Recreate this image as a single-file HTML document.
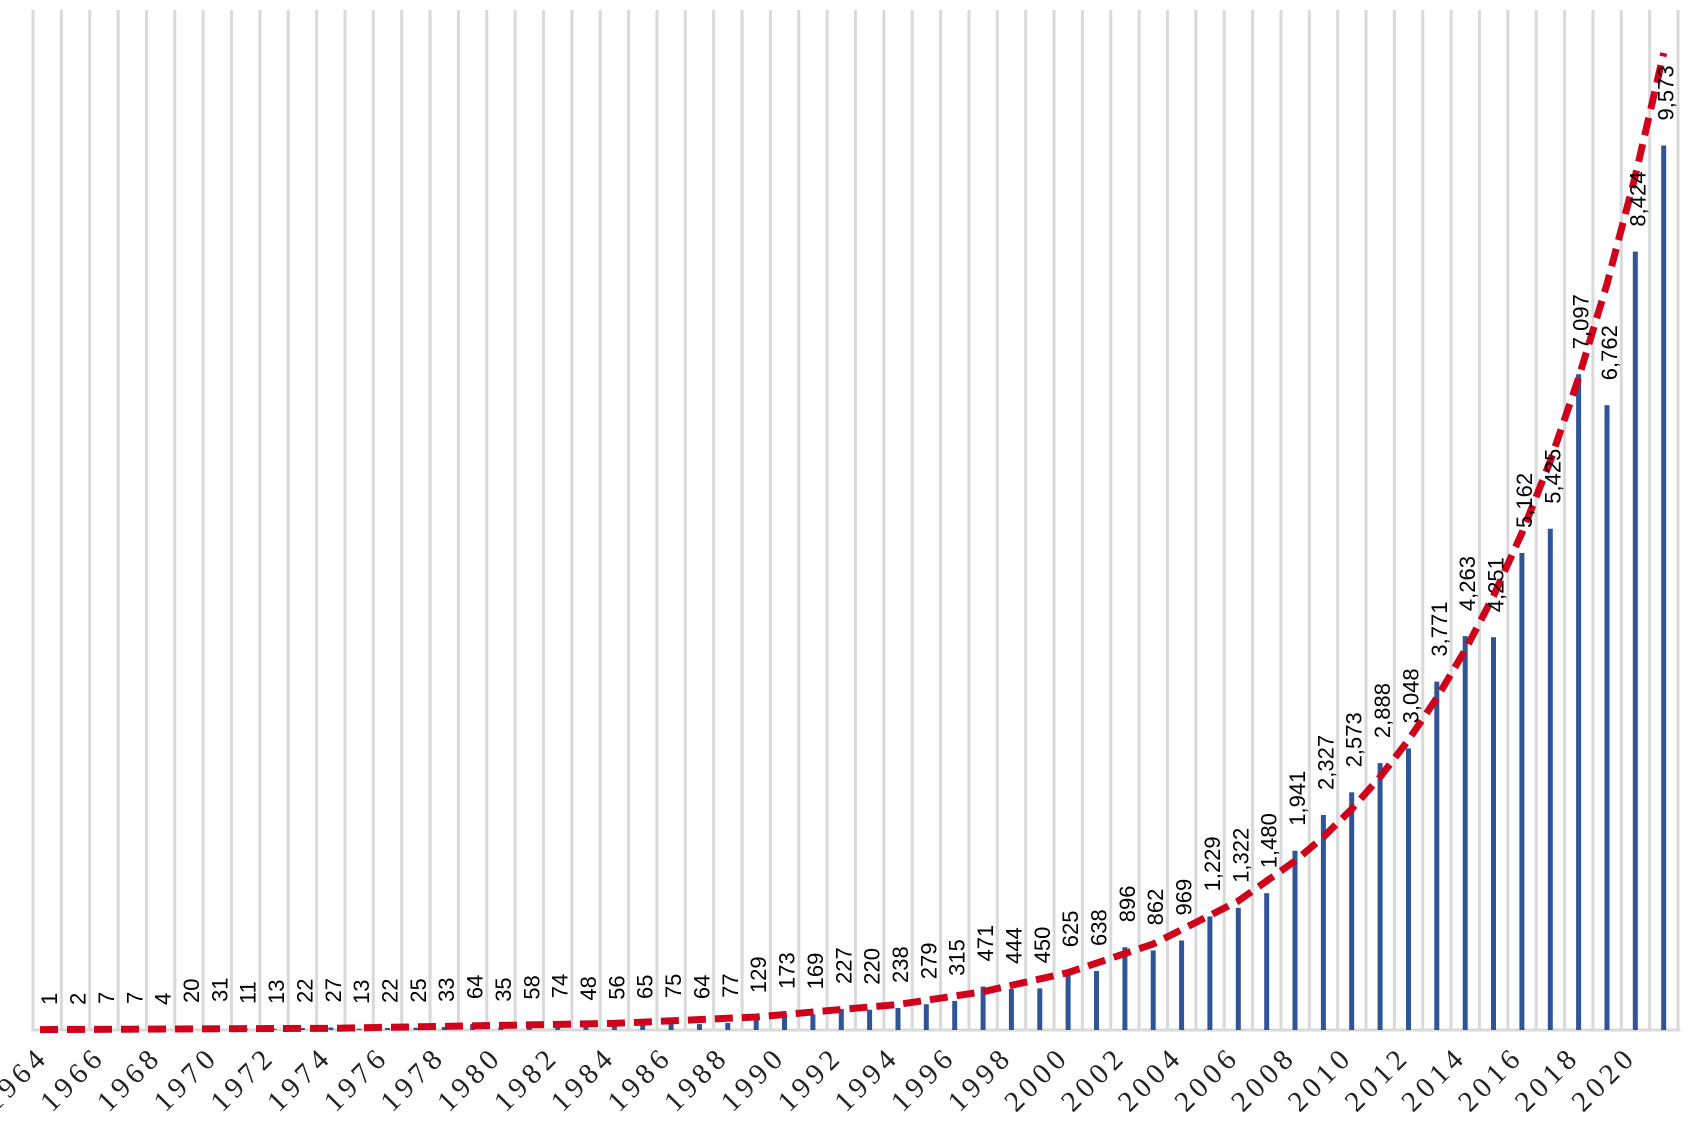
<!DOCTYPE html>
<html><head><meta charset="utf-8"><style>
html,body{margin:0;padding:0;background:#fff;width:1688px;height:1146px;overflow:hidden}
.l{font-family:"Liberation Sans",sans-serif;font-size:22px;fill:#000}
.y{font-family:"Liberation Serif",serif;font-size:29px;letter-spacing:5px;fill:#222;text-anchor:end}
</style></head><body>
<svg width="1688" height="1146" xmlns="http://www.w3.org/2000/svg">
<defs><pattern id="g" patternUnits="userSpaceOnUse" x="31.5" y="0" width="28.362" height="1146"><rect x="0" y="0" width="3" height="1146" fill="#d9d9d9"/></pattern></defs>
<rect x="31.5" y="10" width="1649" height="1020" fill="url(#g)"/>
<rect x="31.5" y="1028.5" width="1649" height="3" fill="#d9d9d9"/>
<g transform="translate(0,1030) scale(1,-1)" fill="#2f5597">
<rect x="44.7" y="0" width="5" height="0.1"/><rect x="73" y="0" width="5" height="0.2"/><rect x="101.4" y="0" width="5" height="0.6"/><rect x="129.8" y="0" width="5" height="0.6"/><rect x="158.1" y="0" width="5" height="0.4"/><rect x="186.5" y="0" width="5" height="1.8"/><rect x="214.8" y="0" width="5" height="2.9"/><rect x="243.2" y="0" width="5" height="1"/><rect x="271.6" y="0" width="5" height="1.2"/><rect x="299.9" y="0" width="5" height="2"/><rect x="328.3" y="0" width="5" height="2.5"/><rect x="356.6" y="0" width="5" height="1.2"/><rect x="385" y="0" width="5" height="2"/><rect x="413.4" y="0" width="5" height="2.3"/><rect x="441.7" y="0" width="5" height="3"/><rect x="470.1" y="0" width="5" height="5.9"/><rect x="498.4" y="0" width="5" height="3.2"/><rect x="526.8" y="0" width="5" height="5.4"/><rect x="555.2" y="0" width="5" height="6.8"/><rect x="583.5" y="0" width="5" height="4.4"/><rect x="611.9" y="0" width="5" height="5.2"/><rect x="640.2" y="0" width="5" height="6"/><rect x="668.6" y="0" width="5" height="6.9"/><rect x="697" y="0" width="5" height="5.9"/><rect x="725.3" y="0" width="5" height="7.1"/><rect x="753.7" y="0" width="5" height="11.9"/><rect x="782" y="0" width="5" height="16"/><rect x="810.4" y="0" width="5" height="15.6"/><rect x="838.8" y="0" width="5" height="21"/><rect x="867.1" y="0" width="5" height="20.3"/><rect x="895.5" y="0" width="5" height="22"/><rect x="923.8" y="0" width="5" height="25.8"/><rect x="952.2" y="0" width="5" height="29.1"/><rect x="980.6" y="0" width="5" height="43.5"/><rect x="1008.9" y="0" width="5" height="41"/><rect x="1037.3" y="0" width="5" height="41.6"/><rect x="1065.6" y="0" width="5" height="57.8"/><rect x="1094" y="0" width="5" height="59"/><rect x="1122.4" y="0" width="5" height="82.8"/><rect x="1150.7" y="0" width="5" height="79.6"/><rect x="1179.1" y="0" width="5" height="89.5"/><rect x="1207.4" y="0" width="5" height="113.6"/><rect x="1235.8" y="0" width="5" height="122.2"/><rect x="1264.2" y="0" width="5" height="136.8"/><rect x="1292.5" y="0" width="5" height="179.3"/><rect x="1320.9" y="0" width="5" height="215"/><rect x="1349.2" y="0" width="5" height="237.7"/><rect x="1377.6" y="0" width="5" height="266.9"/><rect x="1406" y="0" width="5" height="281.6"/><rect x="1434.3" y="0" width="5" height="348.4"/><rect x="1462.7" y="0" width="5" height="393.9"/><rect x="1491" y="0" width="5" height="392.8"/><rect x="1519.4" y="0" width="5" height="477"/><rect x="1547.8" y="0" width="5" height="501.3"/><rect x="1576.1" y="0" width="5" height="655.8"/><rect x="1604.5" y="0" width="5" height="624.8"/><rect x="1632.8" y="0" width="5" height="778.4"/><rect x="1661.2" y="0" width="5" height="884.5"/>
</g>
<polyline fill="none" stroke="#d0021b" stroke-width="7" stroke-dasharray="18,9" points="40,1029.6 330.8,1028.3 614.4,1023.4 756.2,1017 898,1004.5 983.1,991.7 1068.1,972.6 1153.2,944 1238.3,901 1295,861 1323.4,837 1351.7,809 1380.1,777 1408.5,740 1436.8,698 1465.2,650 1493.5,596 1521.9,533 1550.3,461 1578.6,378 1607,284 1635.3,176 1663.7,53"/>
<g class="l">
<text transform="translate(57,1005) rotate(-90)">1</text>
<text transform="translate(85.5,1005) rotate(-90)">2</text>
<text transform="translate(113.9,1004) rotate(-90)">7</text>
<text transform="translate(142.3,1004) rotate(-90)">7</text>
<text transform="translate(170.6,1005) rotate(-90)">4</text>
<text transform="translate(199,1003) rotate(-90)">20</text>
<text transform="translate(227.3,1002) rotate(-90)">31</text>
<text transform="translate(255.7,1004) rotate(-90)">11</text>
<text transform="translate(284.1,1004) rotate(-90)">13</text>
<text transform="translate(312.4,1003) rotate(-90)">22</text>
<text transform="translate(340.8,1002.5) rotate(-90)">27</text>
<text transform="translate(369.1,1004) rotate(-90)">13</text>
<text transform="translate(397.5,1003) rotate(-90)">22</text>
<text transform="translate(425.9,1002.7) rotate(-90)">25</text>
<text transform="translate(454.2,1002) rotate(-90)">33</text>
<text transform="translate(482.6,999.1) rotate(-90)">64</text>
<text transform="translate(510.9,1001.8) rotate(-90)">35</text>
<text transform="translate(539.3,999.6) rotate(-90)">58</text>
<text transform="translate(567.7,998.2) rotate(-90)">74</text>
<text transform="translate(596,1000.6) rotate(-90)">48</text>
<text transform="translate(624.4,999.8) rotate(-90)">56</text>
<text transform="translate(652.7,999) rotate(-90)">65</text>
<text transform="translate(681.1,998.1) rotate(-90)">75</text>
<text transform="translate(709.5,999.1) rotate(-90)">64</text>
<text transform="translate(737.8,997.9) rotate(-90)">77</text>
<text transform="translate(766.2,993.1) rotate(-90)">129</text>
<text transform="translate(794.5,989) rotate(-90)">173</text>
<text transform="translate(822.9,989.4) rotate(-90)">169</text>
<text transform="translate(851.3,984) rotate(-90)">227</text>
<text transform="translate(879.6,984.7) rotate(-90)">220</text>
<text transform="translate(908,983) rotate(-90)">238</text>
<text transform="translate(936.3,979.2) rotate(-90)">279</text>
<text transform="translate(964.7,975.9) rotate(-90)">315</text>
<text transform="translate(993.1,961.5) rotate(-90)">471</text>
<text transform="translate(1021.4,964) rotate(-90)">444</text>
<text transform="translate(1049.8,963.4) rotate(-90)">450</text>
<text transform="translate(1078.1,947.2) rotate(-90)">625</text>
<text transform="translate(1106.5,946) rotate(-90)">638</text>
<text transform="translate(1134.9,922.2) rotate(-90)">896</text>
<text transform="translate(1163.2,925.4) rotate(-90)">862</text>
<text transform="translate(1191.6,915.5) rotate(-90)">969</text>
<text transform="translate(1219.9,891.4) rotate(-90)">1,229</text>
<text transform="translate(1248.3,882.8) rotate(-90)">1,322</text>
<text transform="translate(1276.7,868.2) rotate(-90)">1,480</text>
<text transform="translate(1305,825.7) rotate(-90)">1,941</text>
<text transform="translate(1333.4,790) rotate(-90)">2,327</text>
<text transform="translate(1361.7,767.3) rotate(-90)">2,573</text>
<text transform="translate(1390.1,738.1) rotate(-90)">2,888</text>
<text transform="translate(1418.5,723.4) rotate(-90)">3,048</text>
<text transform="translate(1446.8,656.6) rotate(-90)">3,771</text>
<text transform="translate(1475.2,611.1) rotate(-90)">4,263</text>
<text transform="translate(1503.5,612.2) rotate(-90)">4,251</text>
<text transform="translate(1531.9,528) rotate(-90)">5,162</text>
<text transform="translate(1560.3,503.7) rotate(-90)">5,425</text>
<text transform="translate(1588.6,349.2) rotate(-90)">7,097</text>
<text transform="translate(1617,380.2) rotate(-90)">6,762</text>
<text transform="translate(1645.3,226.6) rotate(-90)">8,424</text>
<text transform="translate(1673.7,120.5) rotate(-90)">9,573</text>
</g>
<g class="y">
<text transform="translate(50.2,1058) rotate(-45)">1964</text>
<text transform="translate(106.9,1058) rotate(-45)">1966</text>
<text transform="translate(163.6,1058) rotate(-45)">1968</text>
<text transform="translate(220.3,1058) rotate(-45)">1970</text>
<text transform="translate(277.1,1058) rotate(-45)">1972</text>
<text transform="translate(333.8,1058) rotate(-45)">1974</text>
<text transform="translate(390.5,1058) rotate(-45)">1976</text>
<text transform="translate(447.2,1058) rotate(-45)">1978</text>
<text transform="translate(503.9,1058) rotate(-45)">1980</text>
<text transform="translate(560.7,1058) rotate(-45)">1982</text>
<text transform="translate(617.4,1058) rotate(-45)">1984</text>
<text transform="translate(674.1,1058) rotate(-45)">1986</text>
<text transform="translate(730.8,1058) rotate(-45)">1988</text>
<text transform="translate(787.5,1058) rotate(-45)">1990</text>
<text transform="translate(844.3,1058) rotate(-45)">1992</text>
<text transform="translate(901,1058) rotate(-45)">1994</text>
<text transform="translate(957.7,1058) rotate(-45)">1996</text>
<text transform="translate(1014.4,1058) rotate(-45)">1998</text>
<text transform="translate(1071.1,1058) rotate(-45)">2000</text>
<text transform="translate(1127.9,1058) rotate(-45)">2002</text>
<text transform="translate(1184.6,1058) rotate(-45)">2004</text>
<text transform="translate(1241.3,1058) rotate(-45)">2006</text>
<text transform="translate(1298,1058) rotate(-45)">2008</text>
<text transform="translate(1354.7,1058) rotate(-45)">2010</text>
<text transform="translate(1411.5,1058) rotate(-45)">2012</text>
<text transform="translate(1468.2,1058) rotate(-45)">2014</text>
<text transform="translate(1524.9,1058) rotate(-45)">2016</text>
<text transform="translate(1581.6,1058) rotate(-45)">2018</text>
<text transform="translate(1638.3,1058) rotate(-45)">2020</text>
</g>
</svg>
</body></html>
